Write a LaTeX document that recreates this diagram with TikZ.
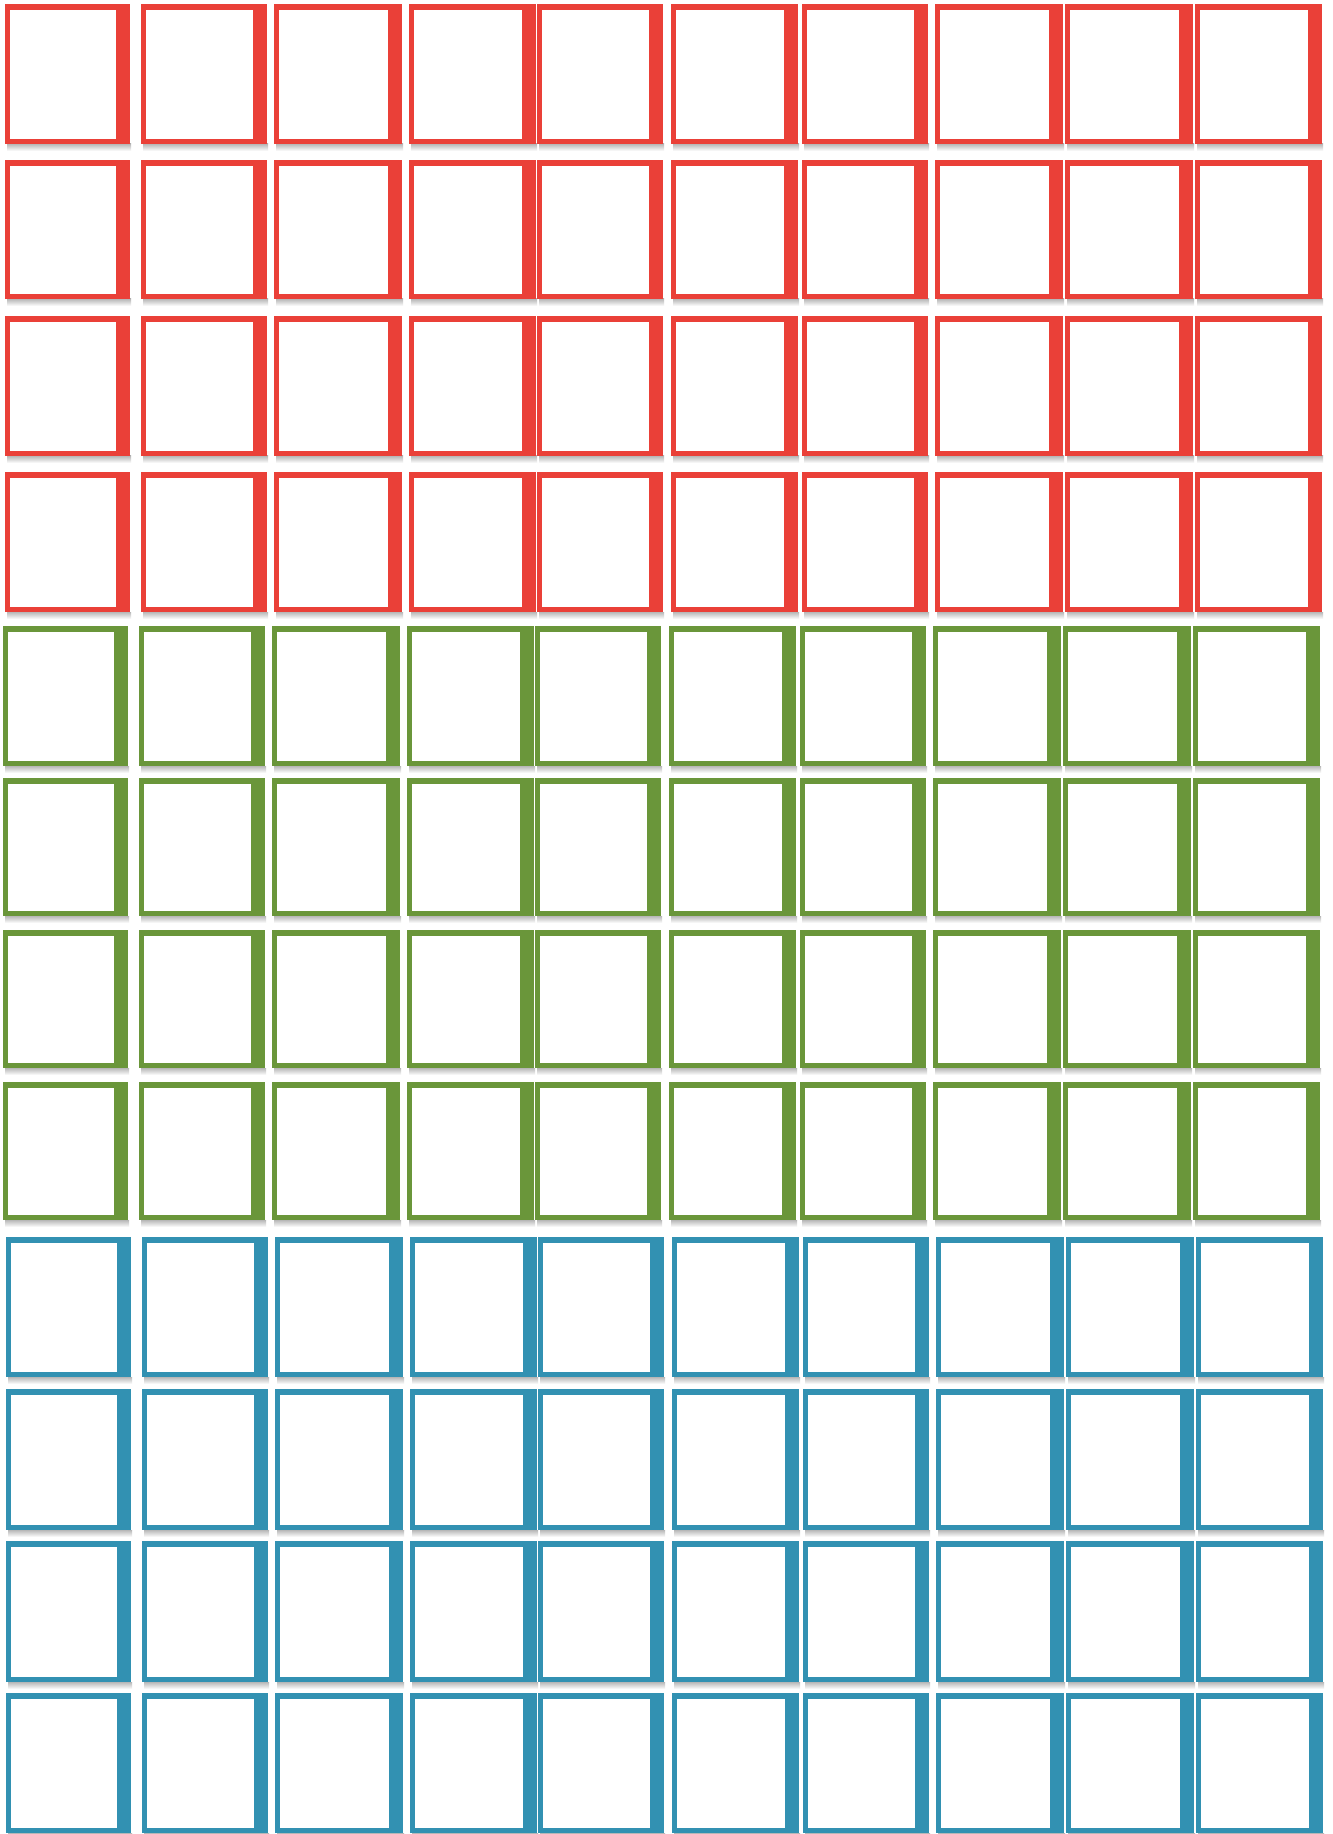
\documentclass[tikz,border=0pt]{standalone}
\definecolor{cred}{RGB}{234,64,56}
\definecolor{cgreen}{RGB}{106,150,58}
\definecolor{cblue}{RGB}{50,145,178}
\tikzset{
  frameshadow/.style={top color=black!28, bottom color=white},
  innerwhite/.style={fill=white}
}
\newcommand{\rowlist}{4/144/cred/0,160/299/cred/0,316/456/cred/0,472/612/cred/0,
                     626/766/cgreen/-2,778/916/cgreen/-2,930/1068/cgreen/-2,1082/1220/cgreen/-2,
                     1237/1377/cblue/1,1389/1530/cblue/1,1541/1682/cblue/1,1693/1833/cblue/1}
\newcommand{\collist}{5/130,141/267,274/402,409/536,537/663,671/798,802/928,935/1063,1065/1193,1195/1322}
\begin{document}
\begin{tikzpicture}[x=0.5pt,y=-0.5pt]
\useasboundingbox (0,0) rectangle (1332,1834);
\fill[white] (0,0) rectangle (1332,1834);
% soft shadows below each frame
\foreach \t/\b/\c/\dx in \rowlist{
  \foreach \l/\r in \collist{
    \shade[frameshadow] (\l+\dx+2,\b) rectangle (\r+\dx+1,\b+7);
  }
}
% frames on top
\foreach \t/\b/\c/\dx in \rowlist{
  \foreach \l/\r in \collist{
    \fill[\c] (\l+\dx,\t) rectangle (\r+\dx,\b);
    \fill[innerwhite] (\l+\dx+5,\t+6) rectangle (\r+\dx-14,\b-5);
  }
}
\end{tikzpicture}
\end{document}
